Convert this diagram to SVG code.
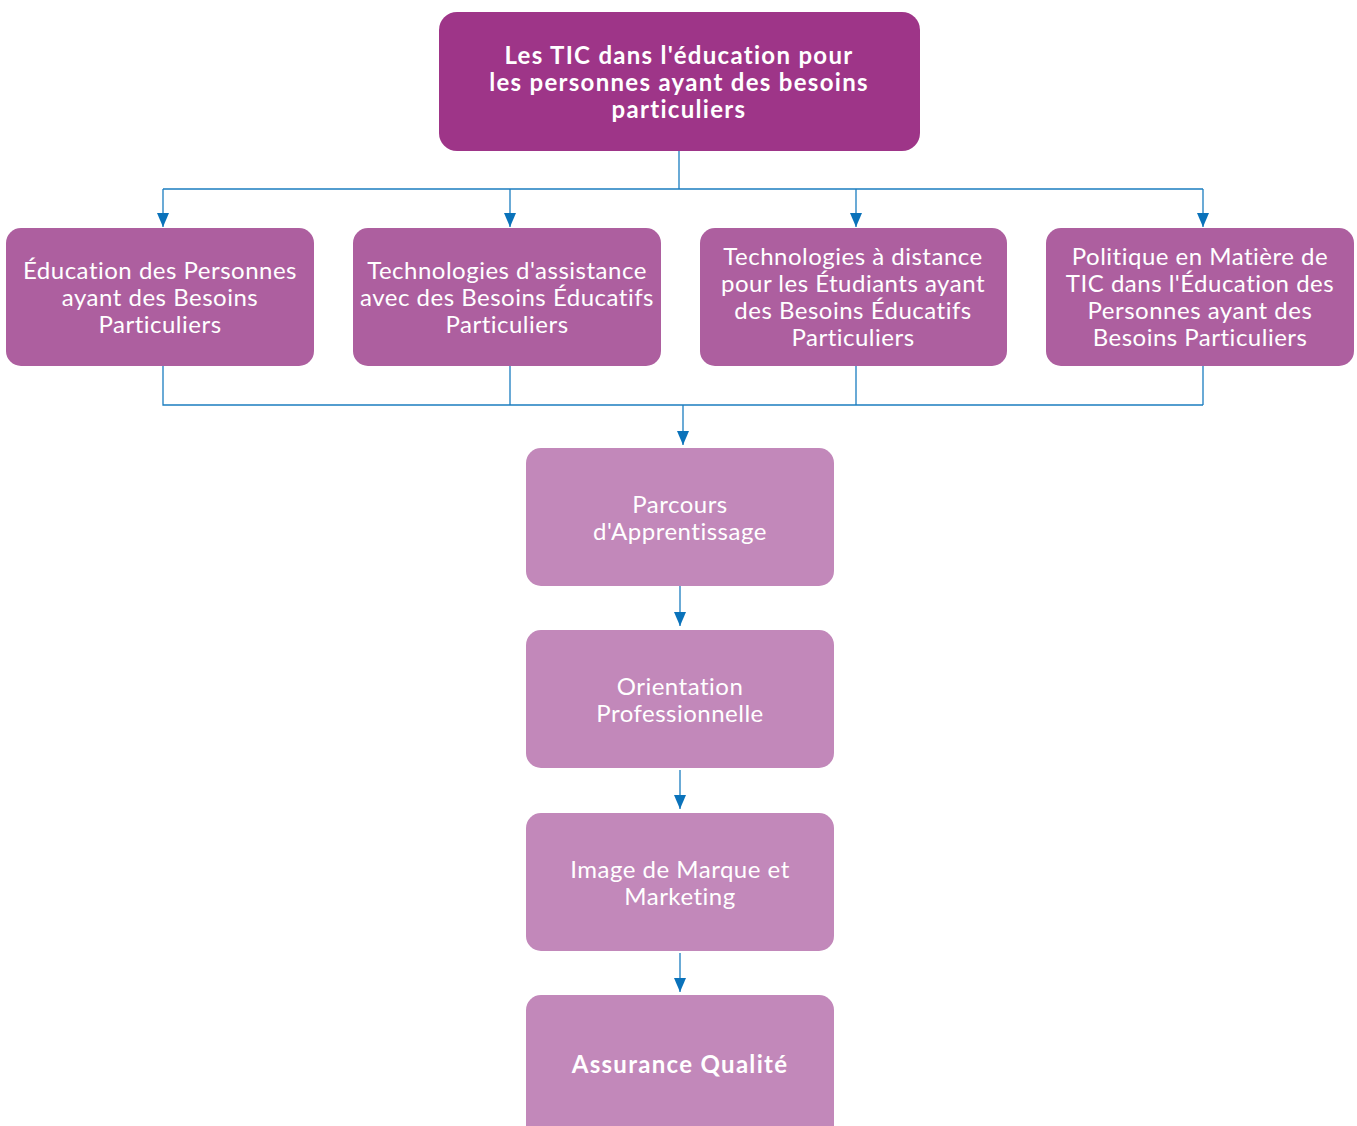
<svg xmlns="http://www.w3.org/2000/svg" width="1357" height="1126" viewBox="0 0 1357 1126">
  <defs>
    <marker id="arrow" viewBox="0 0 14 12" refX="14" refY="6" markerWidth="14" markerHeight="12" markerUnits="userSpaceOnUse" orient="auto">
      <path d="M0,0 L14,6 L0,12 Z" fill="#0a72ba"/>
    </marker>
    <style>
      .box-top { fill: #9e3588; }
      .box-mid { fill: #ad5f9f; }
      .box-low { fill: #c288ba; }
      .label { font-family: Lato, "Open Sans", "Liberation Sans", sans-serif; font-size: 24px; letter-spacing: 0.5px; fill: #ffffff; text-anchor: middle; }
      .bold { font-weight: 700; letter-spacing: 1.3px; }
      .wire { fill: none; stroke: #1b7dc0; stroke-width: 1.3; }
      .arrow { fill: none; stroke: #1b7dc0; stroke-width: 1.3; marker-end: url(#arrow); }
    </style>
  </defs>

  <g id="connectors">
    <!-- root to the four themes -->
    <path class="wire" d="M679,150 V189 M163,189 H1203"/>
    <path class="arrow" d="M163,189 V227"/>
    <path class="arrow" d="M510,189 V227"/>
    <path class="arrow" d="M856,189 V227"/>
    <path class="arrow" d="M1203,189 V227"/>
    <!-- themes merging into the learning path -->
    <path class="wire" d="M163,366 V405 H1203 M510,366 V405 M856,366 V405 M1203,366 V405"/>
    <path class="arrow" d="M683,405 V445"/>
    <!-- vertical chain -->
    <path class="arrow" d="M680,586 V626"/>
    <path class="arrow" d="M680,770 V809"/>
    <path class="arrow" d="M680,953 V992"/>
  </g>

  <g id="root">
    <rect class="box-top" x="439" y="12" width="481" height="139" rx="18"/>
    <text class="label bold"><tspan x="679" y="64">Les TIC dans l'éducation pour</tspan><tspan x="679" y="91">les personnes ayant des besoins</tspan><tspan x="679" y="118">particuliers</tspan></text>
  </g>

  <g id="education">
    <rect class="box-mid" x="6" y="228" width="308" height="138" rx="15"/>
    <text class="label"><tspan x="160" y="279">Éducation des Personnes</tspan><tspan x="160" y="306">ayant des Besoins</tspan><tspan x="160" y="333">Particuliers</tspan></text>
  </g>

  <g id="assistive">
    <rect class="box-mid" x="353" y="228" width="308" height="138" rx="15"/>
    <text class="label"><tspan x="507" y="279">Technologies d'assistance</tspan><tspan x="507" y="306">avec des Besoins Éducatifs</tspan><tspan x="507" y="333">Particuliers</tspan></text>
  </g>

  <g id="distance">
    <rect class="box-mid" x="700" y="228" width="307" height="138" rx="15"/>
    <text class="label"><tspan x="853" y="265">Technologies à distance</tspan><tspan x="853" y="292">pour les Étudiants ayant</tspan><tspan x="853" y="319">des Besoins Éducatifs</tspan><tspan x="853" y="346">Particuliers</tspan></text>
  </g>

  <g id="policy">
    <rect class="box-mid" x="1046" y="228" width="308" height="138" rx="15"/>
    <text class="label"><tspan x="1200" y="265">Politique en Matière de</tspan><tspan x="1200" y="292">TIC dans l'Éducation des</tspan><tspan x="1200" y="319">Personnes ayant des</tspan><tspan x="1200" y="346">Besoins Particuliers</tspan></text>
  </g>

  <g id="learning-path">
    <rect class="box-low" x="526" y="448" width="308" height="138" rx="15"/>
    <text class="label"><tspan x="680" y="513">Parcours</tspan><tspan x="680" y="540">d'Apprentissage</tspan></text>
  </g>

  <g id="career">
    <rect class="box-low" x="526" y="630" width="308" height="138" rx="15"/>
    <text class="label"><tspan x="680" y="695">Orientation</tspan><tspan x="680" y="722">Professionnelle</tspan></text>
  </g>

  <g id="branding">
    <rect class="box-low" x="526" y="813" width="308" height="138" rx="15"/>
    <text class="label"><tspan x="680" y="878">Image de Marque et</tspan><tspan x="680" y="905">Marketing</tspan></text>
  </g>

  <g id="quality">
    <rect class="box-low" x="526" y="995" width="308" height="150" rx="15"/>
    <text class="label bold" x="680" y="1073">Assurance Qualité</text>
  </g>
</svg>
